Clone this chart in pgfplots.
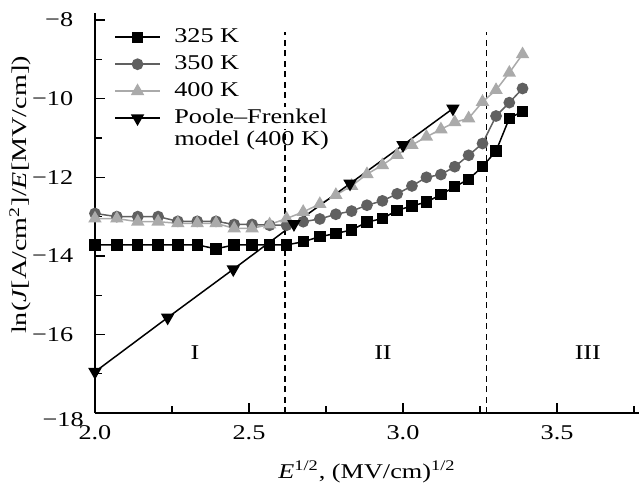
\documentclass[border=0pt]{standalone}
\usepackage{pgfplots}
\pgfplotsset{compat=1.18}
\usepackage{fontspec}
\setmainfont{Liberation Serif}

\definecolor{grayA}{HTML}{606060}
\definecolor{grayB}{HTML}{AAAAAA}
\newcommand{\chartfont}{\fontsize{14}{16.7}\selectfont}
\newcommand{\sx}[1]{\scalebox{1.25}[1]{#1}}

\begin{document}
\begin{tikzpicture}
\begin{axis}[
    scale only axis,
    width=362.7pt, height=266.7pt,
    xmin=2.0, xmax=3.766, ymin=-18, ymax=-7.82,
    axis x line=bottom, axis y line=left,
    axis line style={-, line width=1.3pt},
    font=\chartfont,
    tick label style={font=\chartfont},
    label style={font=\chartfont},
    xtick={2.0,2.5,3.0,3.5}, xticklabels={\sx{2.0},\sx{2.5},\sx{3.0},\sx{3.5}},
    minor xtick={2.25,2.75,3.25,3.75},
    ytick={-18,-16,-14,-12,-10,-8},
    yticklabels={\raisebox{-8.7pt}[0pt][0pt]{\sx{−18}\hspace{-7pt}},\sx{−16},\sx{−14},\sx{−12},\sx{−10},\sx{−8}},
    minor ytick={-17,-15,-13,-11,-9},
    tick align=inside,
    major tick length=7pt, minor tick length=4.5pt,
    every tick/.style={black, line width=0.9pt},
    xticklabel style={yshift=-5pt},
    yticklabel style={xshift=-11pt},
    xlabel={\sx{\textit{E}\textsuperscript{1/2}, (MV/cm)\textsuperscript{1/2}}},
    ylabel={\scalebox{1.34}[1]{ln(\textit{J}[A/cm\textsuperscript{2}]/\textit{E}[MV/cm])}},
    every axis x label/.style={at={(axis description cs:0.5,-0.1625)}, anchor=base, font=\chartfont},
    every axis y label/.style={at={(axis description cs:-0.137,0.545)}, rotate=90, anchor=center, font=\chartfont},
    legend style={draw=none, fill=none, at={(axis description cs:0.035,0.9675)},
                  anchor=north west, inner sep=0pt, row sep=3.5pt, font=\chartfont,
                  nodes={inner sep=1pt, text height=9.5pt, text depth=3pt, fill=white},
                  cells={anchor=west}},
    legend image code/.code={\draw[mark repeat=2,mark phase=2]
        plot coordinates {(0pt,0pt) (15pt,0pt) (30pt,0pt)};
        \path (38pt,0pt);},
    every axis plot/.append style={line width=1pt},
  ]

\addplot[black, dashed, line width=0.9pt, dash pattern=on 4pt off 3pt, forget plot]
  coordinates {(2.617,-18) (2.617,-8.3)};
\addplot[black, dashed, line width=0.9pt, dash pattern=on 4pt off 3pt, forget plot]
  coordinates {(3.270,-18) (3.270,-8.3)};

\addplot[black, mark=square*, mark size=3.3pt] coordinates {
  (2.000,-13.72) (2.071,-13.72) (2.139,-13.72) (2.205,-13.72) (2.269,-13.72)
  (2.332,-13.72) (2.393,-13.82) (2.452,-13.72) (2.510,-13.72) (2.567,-13.72)
  (2.622,-13.72) (2.676,-13.64) (2.730,-13.51) (2.782,-13.43) (2.833,-13.34)
  (2.883,-13.14) (2.933,-13.05) (2.981,-12.84) (3.029,-12.73) (3.076,-12.63)
  (3.123,-12.44) (3.168,-12.24) (3.213,-12.05) (3.258,-11.73) (3.302,-11.33)
  (3.345,-10.50) (3.388,-10.32)};
\addlegendentry{\sx{325 K}}

\addplot[grayA, mark=*, mark size=3.4pt] coordinates {
  (2.000,-12.92) (2.071,-13.00) (2.139,-13.00) (2.205,-13.00) (2.269,-13.12)
  (2.332,-13.12) (2.393,-13.12) (2.452,-13.20) (2.510,-13.20) (2.567,-13.22)
  (2.622,-13.22) (2.676,-13.13) (2.730,-13.06) (2.782,-12.94) (2.833,-12.86)
  (2.883,-12.71) (2.933,-12.60) (2.981,-12.42) (3.029,-12.22) (3.076,-12.00)
  (3.123,-11.93) (3.168,-11.73) (3.213,-11.44) (3.258,-11.14) (3.302,-10.44)
  (3.345,-10.10) (3.388,-9.74)};
\addlegendentry{\sx{350 K}}

\addplot[grayB, mark=triangle*, mark size=4.2pt] coordinates {
  (2.000,-13.05) (2.071,-13.05) (2.139,-13.13) (2.205,-13.13) (2.269,-13.17)
  (2.332,-13.17) (2.393,-13.17) (2.452,-13.30) (2.510,-13.30) (2.567,-13.20)
  (2.622,-13.05) (2.676,-12.88) (2.730,-12.68) (2.782,-12.45) (2.833,-12.22)
  (2.883,-11.92) (2.933,-11.69) (2.981,-11.43) (3.029,-11.18) (3.076,-10.97)
  (3.123,-10.78) (3.168,-10.60) (3.213,-10.50) (3.258,-10.08) (3.302,-9.78)
  (3.345,-9.34) (3.388,-8.87)};
\addlegendentry{\sx{400 K}}

\addplot[black, mark=triangle*, mark size=4.2pt, mark options={rotate=180}] coordinates {
  (2.000,-16.95) (2.236,-15.57) (2.449,-14.34) (2.646,-13.19)
  (2.828,-12.16) (3.000,-11.18) (3.162,-10.25)};
\addlegendentry{\sx{\begin{tabular}[t]{@{}l@{}}Poole–Frenkel\\[-1.5pt]model (400 K)\end{tabular}}}

\node[font=\chartfont] at (axis cs:2.325,-16.45) {\sx{I}};
\node[font=\chartfont] at (axis cs:2.935,-16.45) {\sx{II}};
\node[font=\chartfont] at (axis cs:3.600,-16.45) {\sx{III}};

\end{axis}
\pgfresetboundingbox
\path[use as bounding box] ([xshift=-63.3pt, yshift=-47.3pt]current axis.south west)
  rectangle ([yshift=8.7pt]current axis.north east);
\end{tikzpicture}
\end{document}
